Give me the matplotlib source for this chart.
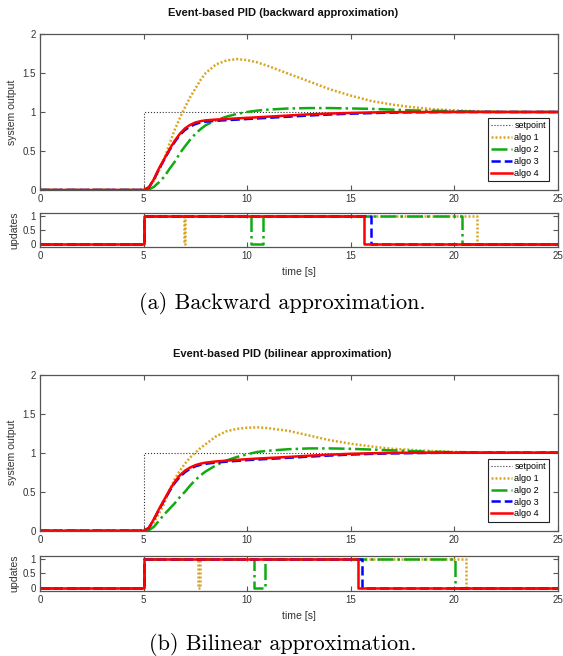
import matplotlib
matplotlib.use("Agg")
import matplotlib.pyplot as plt

plt.rcParams['font.family'] = ['Liberation Sans', 'DejaVu Sans']

# time samples of the system output curves
t = [0, 5, 5.25, 5.5, 5.75, 6, 6.25, 6.5, 6.75, 7, 7.25, 7.5, 7.75, 8, 8.5, 9, 9.5,
     10, 10.5, 11, 12, 13, 14, 15, 16, 17, 18, 19, 20, 21, 22, 23, 25]

# backward approximation
bw_algo1 = [0, 0, 0.04, 0.12, 0.25, 0.4, 0.59, 0.77, 0.92, 1.06, 1.19, 1.3, 1.41, 1.5, 1.61, 1.66, 1.678,
            1.665, 1.635, 1.59, 1.49, 1.39, 1.29, 1.21, 1.14, 1.095, 1.06, 1.035, 1.02, 1.01, 1.005, 1.0, 1.0]
bw_algo2 = [0, 0, 0.005, 0.04, 0.1, 0.17, 0.27, 0.36, 0.47, 0.56, 0.645, 0.72, 0.78, 0.83, 0.895, 0.94, 0.975,
            1.0, 1.018, 1.03, 1.045, 1.05, 1.05, 1.045, 1.04, 1.03, 1.02, 1.015, 1.01, 1.005, 1.0, 1.0, 1.0]
bw_algo3 = [0, 0, 0.03, 0.135, 0.27, 0.39, 0.51, 0.615, 0.705, 0.77, 0.815, 0.845, 0.865, 0.876, 0.887, 0.895, 0.902,
            0.91, 0.917, 0.925, 0.94, 0.955, 0.968, 0.978, 0.986, 0.992, 0.996, 0.998, 1.0, 1.0, 1.0, 1.0, 1.0]
bw_algo4 = [0, 0, 0.03, 0.14, 0.28, 0.4, 0.52, 0.63, 0.72, 0.79, 0.835, 0.865, 0.882, 0.893, 0.903, 0.91, 0.918,
            0.925, 0.932, 0.94, 0.955, 0.97, 0.98, 0.988, 0.994, 0.998, 1.0, 1.0, 1.0, 1.0, 1.0, 1.0, 1.0]

# bilinear approximation
bl_algo1 = [0, 0, 0.03, 0.11, 0.22, 0.35, 0.52, 0.66, 0.77, 0.86, 0.94, 1.0, 1.06, 1.11, 1.21, 1.275, 1.305,
            1.32, 1.325, 1.315, 1.28, 1.22, 1.16, 1.115, 1.08, 1.05, 1.035, 1.02, 1.01, 1.005, 1.0, 1.0, 1.0]
bl_algo2 = [0, 0, 0.005, 0.05, 0.13, 0.21, 0.28, 0.35, 0.43, 0.5, 0.58, 0.65, 0.71, 0.76, 0.84, 0.9, 0.945,
            0.98, 1.01, 1.025, 1.045, 1.055, 1.055, 1.05, 1.04, 1.03, 1.02, 1.012, 1.006, 1.003, 1.0, 1.0, 1.0]
bl_algo3 = [0, 0, 0.033, 0.145, 0.27, 0.39, 0.505, 0.61, 0.69, 0.75, 0.795, 0.825, 0.845, 0.858, 0.874, 0.885, 0.895,
            0.905, 0.913, 0.92, 0.935, 0.95, 0.964, 0.976, 0.985, 0.991, 0.995, 0.998, 1.0, 1.0, 1.0, 1.0, 1.0]
bl_algo4 = [0, 0, 0.035, 0.15, 0.28, 0.4, 0.52, 0.625, 0.71, 0.77, 0.81, 0.84, 0.86, 0.873, 0.888, 0.898, 0.908,
            0.917, 0.925, 0.932, 0.946, 0.962, 0.975, 0.986, 0.993, 0.998, 1.0, 1.0, 1.0, 1.0, 1.0, 1.0, 1.0]

setpoint_t = [0, 5, 25]
setpoint_v = [0, 1, 1]

# update flags (switching times, value held after each time)
bw_upd_t = {
    'algo 1': [0, 5, 6.93, 7.0, 21.1, 25],
    'algo 2': [0, 5, 10.2, 10.75, 20.35, 25],
    'algo 3': [0, 5, 16.0, 25],
    'algo 4': [0, 5, 15.65, 25],
}
bw_upd_v = {
    'algo 1': [0, 1, 0, 1, 0, 0],
    'algo 2': [0, 1, 0, 1, 0, 0],
    'algo 3': [0, 1, 0, 0],
    'algo 4': [0, 1, 0, 0],
}
bl_upd_t = {
    'algo 1': [0, 5, 7.63, 7.7, 20.57, 25],
    'algo 2': [0, 5, 10.33, 10.85, 20.05, 25],
    'algo 3': [0, 5, 15.53, 25],
    'algo 4': [0, 5, 15.33, 25],
}
bl_upd_v = bw_upd_v

labels = ['algo 1', 'algo 2', 'algo 3', 'algo 4']
colors = ['#D9A521', '#12AA12', '#0000FF', '#FF0000']
styles = [(0, (0.8, 0.8)), '-.', '--', '-']

frame_col = '#555555'


def style_axes(ax):
    ax.tick_params(direction='in', top=True, right=True, length=3.5, width=0.8,
                   labelsize=7, colors=frame_col, labelcolor='#333333', pad=3)
    for s in ax.spines.values():
        s.set_color(frame_col)
        s.set_linewidth(0.9)
    ax.set_xlim(0, 25)
    ax.set_xticks([0, 5, 10, 15, 20, 25])


def draw_panel(fig, main_rect, upd_rect, title, title_y, caption, caption_y,
               curves, upd_t, upd_v):
    ax = fig.add_axes(main_rect)
    ax.plot(setpoint_t, setpoint_v, ':', color='#333333', lw=0.8,
            drawstyle='steps-post', label='setpoint')
    for y, lab, c, ls in zip(curves, labels, colors, styles):
        ax.plot(t, y, linestyle=ls, color=c, lw=1.8, label=lab)
    ax.set_ylim(0, 2)
    ax.set_yticks([0, 0.5, 1, 1.5, 2])
    ax.set_yticklabels(['0', '0.5', '1', '1.5', '2'])
    ax.set_ylabel('system output', fontsize=7.6, color='#333333', labelpad=4)
    style_axes(ax)
    leg = ax.legend(loc='lower right', bbox_to_anchor=(0.983, 0.058), fontsize=6.5,
                    fancybox=False, framealpha=1, edgecolor='#222222',
                    handlelength=2.3, handletextpad=0.3, borderpad=0.35,
                    labelspacing=0.32, borderaxespad=0)
    leg.get_frame().set_linewidth(0.8)

    ax2 = fig.add_axes(upd_rect)
    for lab, c, ls in zip(labels, colors, styles):
        ax2.step(upd_t[lab], upd_v[lab], linestyle=ls, color=c, lw=1.8, where='post')
    ax2.set_ylim(-0.1, 1.1)
    ax2.set_yticks([0, 0.5, 1])
    ax2.set_yticklabels(['0', '0.5', '1'])
    ax2.set_ylabel('updates', fontsize=7.6, color='#333333', labelpad=2)
    ax2.set_xlabel('time [s]', fontsize=7.6, color='#333333', labelpad=4)
    style_axes(ax2)

    fig.text(0.502, title_y, title, ha='center', va='center', fontsize=8,
             fontweight='bold', color='#111111')
    fig.text(0.502, caption_y, caption, ha='center', va='center', fontsize=16,
             family='cmr10')


fig = plt.figure(figsize=(5.63, 6.56), dpi=100)

draw_panel(fig, [0.071, 0.7104, 0.920, 0.2378], [0.071, 0.6235, 0.920, 0.052],
           'Event-based PID (backward approximation)', 0.980,
           '(a) Backward approximation.', 0.538,
           [bw_algo1, bw_algo2, bw_algo3, bw_algo4], bw_upd_t, bw_upd_v)

draw_panel(fig, [0.071, 0.191, 0.920, 0.2378], [0.071, 0.099, 0.920, 0.054],
           'Event-based PID (bilinear approximation)', 0.460,
           '(b) Bilinear approximation.', 0.017,
           [bl_algo1, bl_algo2, bl_algo3, bl_algo4], bl_upd_t, bl_upd_v)

fig.savefig('out.png', dpi=100)
